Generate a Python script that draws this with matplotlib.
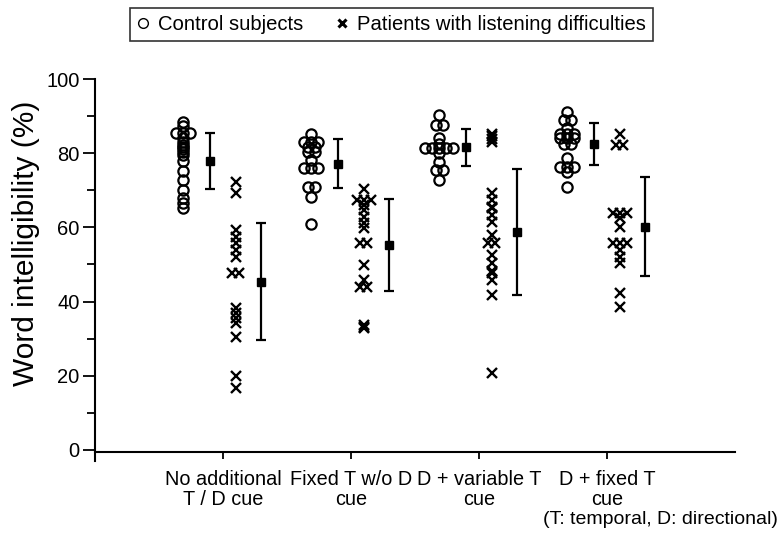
import numpy as np
import matplotlib
matplotlib.use("Agg")
import matplotlib.pyplot as plt
from matplotlib.lines import Line2D

plt.rcParams['font.family'] = ['Liberation Sans', 'DejaVu Sans']

# 条件
conditions = ["No additional\nT / D cue", "Fixed T w/o D\ncue",
              "D + variable T\ncue", "D + fixed T\ncue"]

# 对照组 (每个条件的个体值)
control_1 = [88.5, 87.2, 85.4, 85.4, 85.4, 84.0, 83.1, 82.3, 81.8, 81.0,
             80.4, 79.5, 77.8, 75.1, 72.8, 70.1, 67.9, 66.5, 65.2]
control_2 = [85.3, 83.1, 83.1, 83.1, 81.8, 81.8, 80.4, 80.4, 78.2, 75.9,
             75.9, 75.9, 71.0, 71.0, 68.3, 60.9]
control_3 = [90.3, 87.6, 87.6, 84.0, 82.6, 81.3, 81.3, 81.3, 81.3, 81.3,
             80.0, 77.7, 75.5, 75.5, 72.8]
control_4 = [91.2, 88.9, 88.9, 86.7, 85.3, 85.3, 85.3, 84.0, 84.0, 84.0,
             82.6, 82.6, 78.6, 76.4, 76.4, 76.4, 75.0, 71.0]

# 患者组
patient_1 = [72.3, 69.2, 59.3, 57.5, 55.7, 53.9, 52.1, 47.6, 47.6, 38.2,
             36.8, 35.5, 34.1, 30.5, 19.8, 16.6]
patient_2 = [70.3, 67.4, 67.4, 67.4, 66.0, 64.7, 62.9, 61.1, 59.7, 55.7,
             55.7, 49.9, 45.8, 44.0, 44.0, 33.6, 33.2, 32.8]
patient_3 = [85.3, 84.5, 83.8, 83.0, 69.2, 67.4, 65.6, 65.2, 63.3, 61.5,
             58.0, 55.7, 55.7, 52.6, 50.3, 48.3, 47.8, 45.8, 41.8, 20.7]
patient_4 = [85.3, 82.2, 82.2, 63.8, 63.8, 63.8, 62.4, 60.2, 55.7, 55.7,
             55.7, 53.9, 52.1, 50.3, 42.2, 38.6]

# 均值 ± SD
control_mean = [77.9, 77.1, 81.6, 82.5]
control_sd = [7.5, 6.6, 5.0, 5.7]
patient_mean = [45.4, 55.3, 58.8, 60.2]
patient_sd = [15.9, 12.4, 17.0, 13.4]

controls = [control_1, control_2, control_3, control_4]
patients = [patient_1, patient_2, patient_3, patient_4]


def spread(values, step=0.055):
    '''
    相同数值的点水平展开
    '''
    values = np.asarray(values)
    offsets = np.zeros(len(values))
    for v in np.unique(values):
        idx = np.where(values == v)[0]
        n = len(idx)
        offsets[idx] = (np.arange(n) - (n - 1) / 2) * step
    return offsets


fig = plt.figure(figsize=(7.8, 5.36), dpi=100)
ax = fig.add_axes([0.1218, 0.1399, 0.8205, 0.7127])

pos = np.arange(1, len(conditions) + 1)
for i, (c, p) in enumerate(zip(controls, patients)):
    xc = pos[i] - 0.31 + spread(c)
    ax.plot(xc, c, 'o', ms=7.4, mfc='none', mec='black', mew=1.6, ls='none')
    xp = pos[i] + 0.10 + spread(p)
    ax.plot(xp, p, 'x', ms=7.4, color='black', mew=1.7, ls='none')

ax.errorbar(pos - 0.10, control_mean, yerr=control_sd, fmt='s', color='black',
            ms=5.5, capsize=3.5, elinewidth=1.6, capthick=1.6)
ax.errorbar(pos + 0.30, patient_mean, yerr=patient_sd, fmt='s', color='black',
            ms=5.5, capsize=3.5, elinewidth=1.6, capthick=1.6)

ax.set_xlim(0, 5)
ax.set_ylim(-3, 100)
ax.spines['top'].set_visible(False)
ax.spines['right'].set_visible(False)
ax.spines['left'].set_linewidth(1.5)
ax.spines['bottom'].set_linewidth(1.5)
ax.spines['bottom'].set_position(('data', -0.6))

ax.set_yticks([0, 20, 40, 60, 80, 100])
ax.set_yticks([10, 30, 50, 70, 90], minor=True)
ax.tick_params(axis='y', which='major', length=9, width=1.3, labelsize=14.5, pad=2)
ax.tick_params(axis='y', which='minor', length=6, width=1.3)
ax.set_xticks(pos)
ax.set_xticklabels(conditions, fontsize=14.3, linespacing=1.05)
ax.tick_params(axis='x', length=5, width=1.3, pad=8)

ax.set_ylabel("Word intelligibility (%)", fontsize=21.5)
ax.yaxis.set_label_coords(-0.086, 0.57)

fig.text(778 / 780, 1 - 519 / 536, "(T: temporal, D: directional)",
         fontsize=14, ha='right', va='center')

handles = [
    Line2D([], [], marker='o', ls='none', ms=7, mfc='none', mec='black', mew=1.0),
    Line2D([], [], marker='x', ls='none', ms=6, color='black', mew=2.2),
]
leg = fig.legend(handles, ["Control subjects", "Patients with listening difficulties"],
                 loc='center', bbox_to_anchor=(0.502, 0.954), ncol=2,
                 fancybox=False, edgecolor='black', fontsize=14.6,
                 handlelength=0.6, handletextpad=0.45, columnspacing=1.6,
                 borderpad=0.35)
leg.get_frame().set_linewidth(1.2)

fig.savefig("out.png", dpi=100)
